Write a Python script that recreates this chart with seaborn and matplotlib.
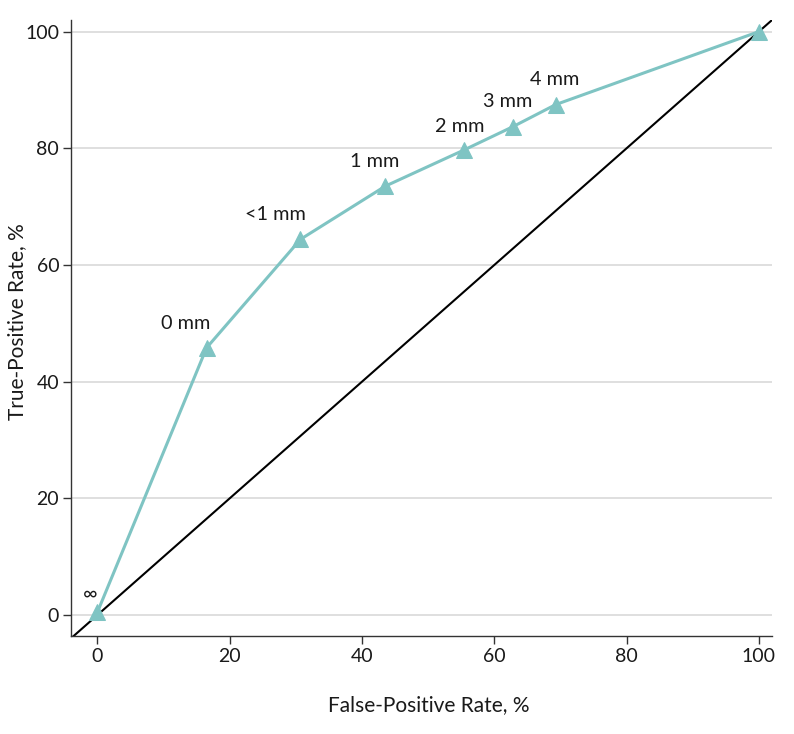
import matplotlib
matplotlib.use("Agg")
import matplotlib.pyplot as plt
import seaborn as sns
import pandas as pd

# ROC points
labels = ["\u221e", "0 mm", "<1 mm", "1 mm", "2 mm", "3 mm", "4 mm", ""]
fpr = [0.0, 16.5, 30.7, 43.5, 55.4, 62.8, 69.3, 100.0]
tpr = [0.5, 45.8, 64.4, 73.5, 79.7, 83.7, 87.5, 100.0]
label_dx = [-7, -21, -25, -10, -4, -5, -1, 0]
label_dy = [18, 24, 25, 25, 24, 25, 25, 0]

df = pd.DataFrame({"fpr": fpr, "tpr": tpr, "label": labels})

sns.set_theme(style="white")
plt.rcParams["font.family"] = ["Lato", "DejaVu Sans"]

teal = "#7FC4C3"
fig = plt.figure(figsize=(7.94, 7.34), dpi=100)
ax = fig.add_axes([0.0894, 0.1335, 0.883, 0.8393])

ax.set_xlim(-4, 102)
ax.set_ylim(-3.6, 102)

for yv in [0, 20, 40, 60, 80, 100]:
    ax.axhline(yv, color="#d9d9d9", lw=1.2, zorder=0)

ax.plot([-5, 105], [-5, 105], color="black", lw=1.5, zorder=1)

sns.lineplot(data=df, x="fpr", y="tpr", ax=ax, color=teal, lw=2.2,
             marker="^", markersize=12, markeredgecolor=teal, sort=False, zorder=3)

for lab, x, y, dx, dy in zip(labels, fpr, tpr, label_dx, label_dy):
    if lab:
        ax.annotate(lab, (x, y), xytext=(dx, dy), textcoords="offset pixels",
                    ha="center", va="center", fontsize=14.3, color="#1a1a1a")

ax.set_xticks([0, 20, 40, 60, 80, 100])
ax.set_yticks([0, 20, 40, 60, 80, 100])
ax.tick_params(axis="both", labelsize=14, length=5.5, width=1, direction="out",
               bottom=True, left=True, pad=3, colors="#333333", labelcolor="#1a1a1a")

for s in ["top", "right"]:
    ax.spines[s].set_visible(False)
for s in ["left", "bottom"]:
    ax.spines[s].set_color("#333333")
    ax.spines[s].set_linewidth(1)

ax.set_xlabel("False-Positive Rate, %", fontsize=15, color="#1a1a1a", va="center")
ax.set_ylabel("True-Positive Rate, %", fontsize=15, color="#1a1a1a", va="center")
ax.xaxis.set_label_coords(0.511, -0.112)
ax.yaxis.set_label_coords(-0.077, 0.511)
ax.grid(False)

fig.savefig("out.png", dpi=100)
